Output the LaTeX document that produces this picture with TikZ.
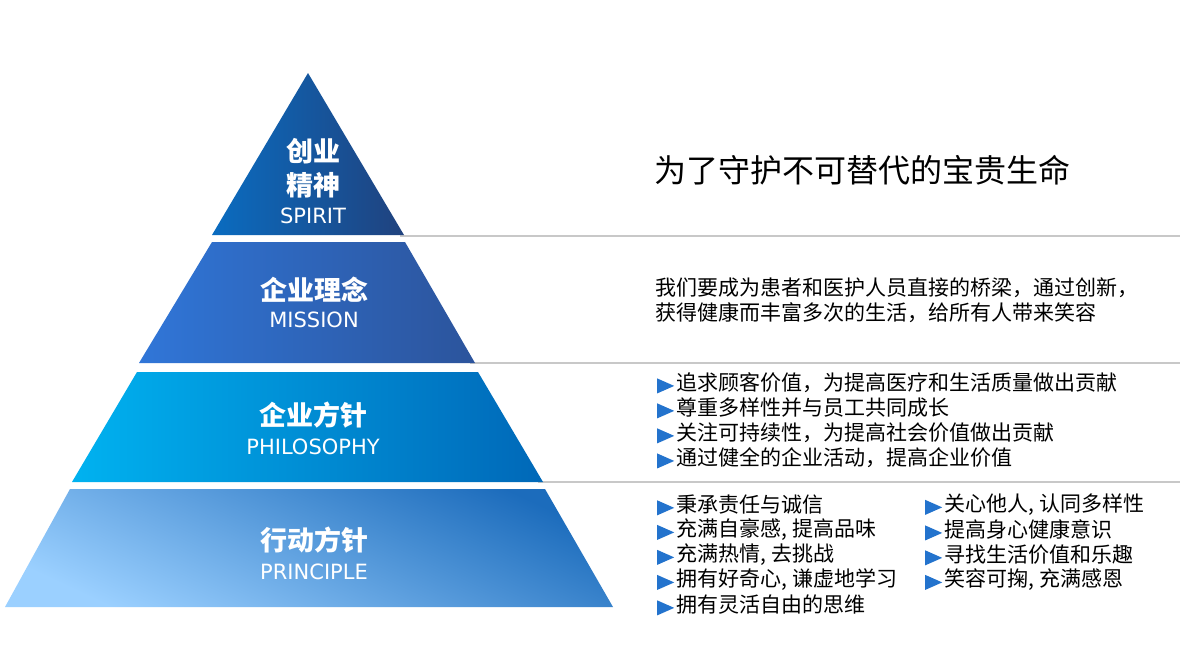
\documentclass[tikz,border=0pt]{standalone}
\usepackage{fontspec}
\setmainfont{DejaVu Sans}
\newfontfamily\cjk{Noto Sans CJK SC}
\newfontfamily\latf{DejaVu Sans}
\definecolor{bulblue}{RGB}{35,115,205}
\definecolor{sepgray}{RGB}{200,200,200}
\definecolor{aL}{RGB}{10,108,192}
\definecolor{aR}{RGB}{32,66,126}
\definecolor{bL}{RGB}{48,118,216}
\definecolor{bR}{RGB}{44,84,156}
\definecolor{cL}{RGB}{0,178,240}
\definecolor{cR}{RGB}{0,104,184}
\definecolor{dL}{RGB}{155,208,255}
\definecolor{dR}{RGB}{28,108,188}
\newcommand{\bl}{\raisebox{-3pt}{\tikz[x=1pt,y=1pt]\fill[bulblue] (0,0) -- (17,7.5) -- (0,15) -- cycle;}\hspace{2pt}}
\newcommand{\hc}{,\hspace{5pt}}
\tikzset{
  sep/.style={draw=sepgray,line width=1.5pt},
  lbl/.style={text=white,font=\fontsize{27}{27}\cjk\bfseries,inner sep=0pt},
  sub/.style={text=white,font=\fontsize{21}{21}\latf,inner sep=0pt},
  title/.style={text=black,font=\fontsize{32}{32}\cjk,inner sep=0pt,anchor=west},
  body/.style={text=black,font=\fontsize{21}{21}\cjk,inner sep=0pt,anchor=west}
}
\begin{document}
\begin{tikzpicture}[x=1pt,y=-1pt]
\useasboundingbox (0,0) rectangle (1180,659);
\fill[white] (0,0) rectangle (1180,659);
% separator lines
\draw[sep] (400,236) -- (1180,236);
\draw[sep] (470,363) -- (1180,363);
\draw[sep] (538,482) -- (1180,482);
% layers
\shade[left color=aL,right color=aR] (308,73) -- (404,235) -- (212,235) -- cycle;
\shade[left color=bL,right color=bR] (212,242) -- (405,242) -- (475,363) -- (139,363) -- cycle;
\shade[left color=cL,right color=cR] (137,372) -- (478,372) -- (543,482) -- (72,482) -- cycle;
\shade[left color=dL,right color=dR,shading angle=155] (70,489) -- (545,489) -- (613,607) -- (5,607) -- cycle;
% layer labels
\node[lbl] (l1a) at (313,151) {创业};
\node[lbl] (l1b) at (313,185) {精神};
\node[sub] (l1c) at (313,216) {SPIRIT};
\node[lbl] (l2a) at (314,290) {企业理念};
\node[sub] (l2b) at (314,320) {MISSION};
\node[lbl] (l3a) at (313,415) {企业方针};
\node[sub] (l3b) at (313,447) {PHILOSOPHY};
\node[lbl] (l4a) at (314,540) {行动方针};
\node[sub] (l4b) at (314,572) {PRINCIPLE};
% right side texts
\node[title] (t1) at (654,170) {为了守护不可替代的宝贵生命};
\node[body] (m1) at (655,288) {我们要成为患者和医护人员直接的桥梁，通过创新，};
\node[body] (m2) at (655,313) {获得健康而丰富多次的生活，给所有人带来笑容};
\node[body] (p1) at (657,383) {\bl 追求顾客价值，为提高医疗和生活质量做出贡献};
\node[body] (p2) at (657,408) {\bl 尊重多样性并与员工共同成长};
\node[body] (p3) at (657,433) {\bl 关注可持续性，为提高社会价值做出贡献};
\node[body] (p4) at (657,458) {\bl 通过健全的企业活动，提高企业价值};
\node[body] (a1) at (657,505) {\bl 秉承责任与诚信};
\node[body] (a2) at (657,530) {\bl 充满自豪感\hc 提高品味};
\node[body] (a3) at (657,555) {\bl 充满热情\hc 去挑战};
\node[body] (a4) at (657,580) {\bl 拥有好奇心\hc 谦虚地学习};
\node[body] (a5) at (657,605) {\bl 拥有灵活自由的思维};
\node[body] (b1) at (925,505) {\bl 关心他人\hc 认同多样性};
\node[body] (b2) at (925,530) {\bl 提高身心健康意识};
\node[body] (b3) at (925,555) {\bl 寻找生活价值和乐趣};
\node[body] (b4) at (925,580) {\bl 笑容可掬\hc 充满感恩};
\end{tikzpicture}
\end{document}
